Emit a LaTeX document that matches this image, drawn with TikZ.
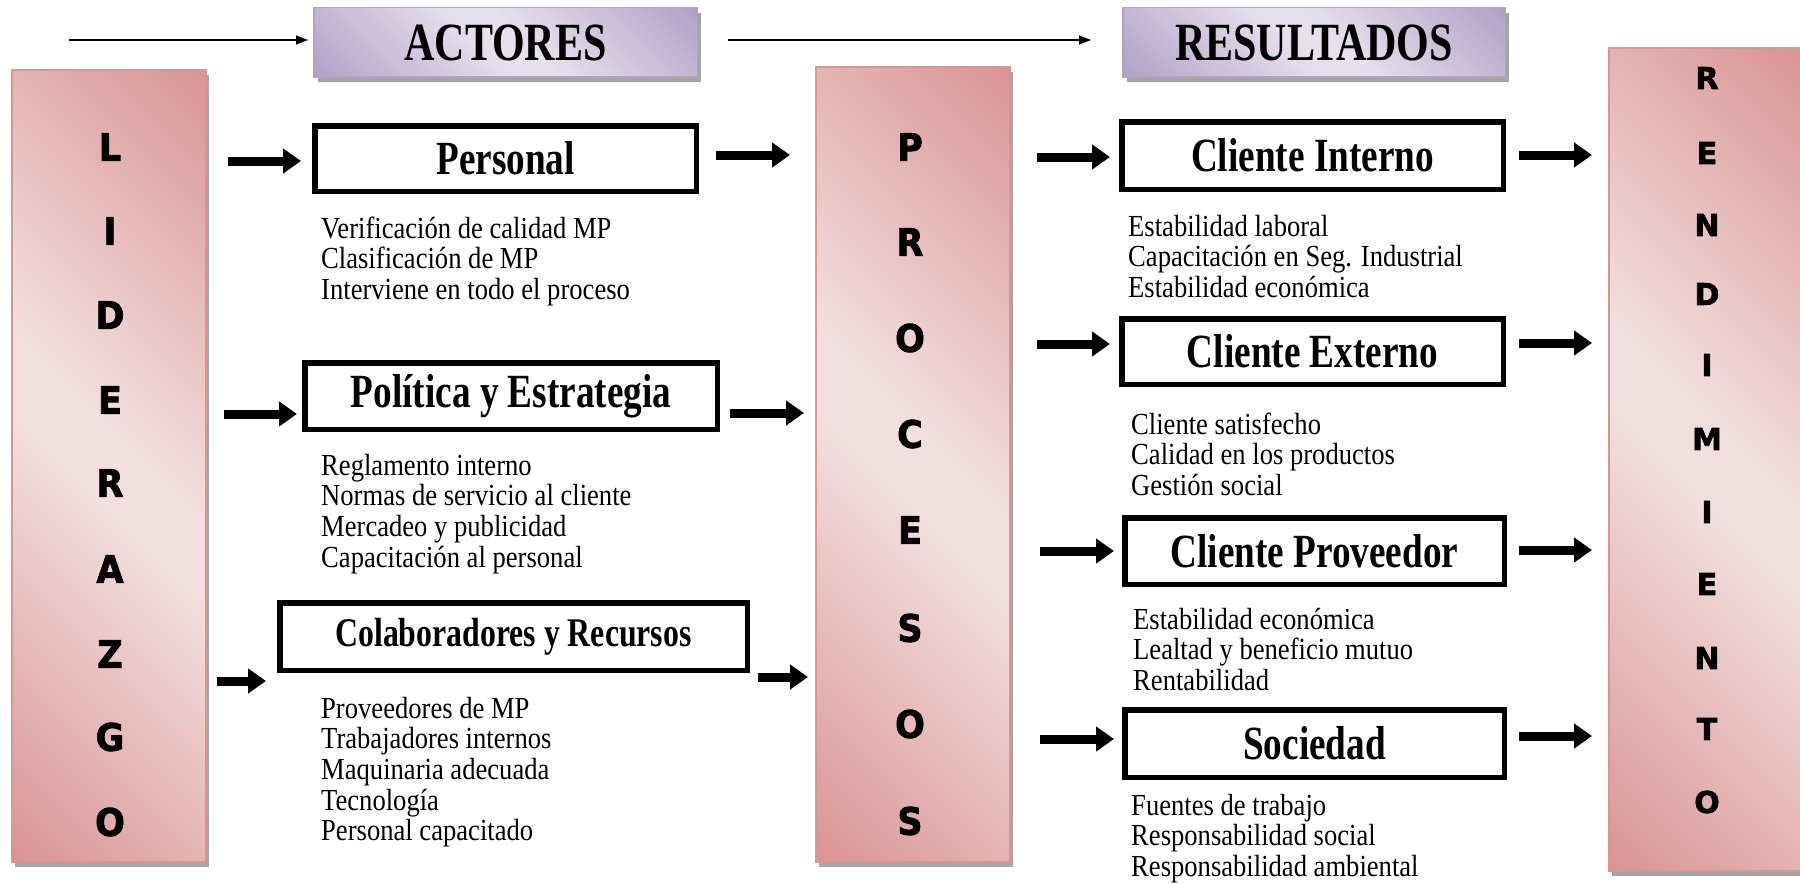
\documentclass[tikz,border=0pt]{standalone}
\usepackage{fontspec}
\usepackage{graphicx}
\setmainfont{Liberation Serif}
\newfontfamily\decofont{DejaVu Sans}[BoldFont={DejaVu Sans Bold}, BoldFeatures={FakeBold=2.2}]
\usetikzlibrary{arrows.meta,shadows}

\definecolor{pinkdark}{RGB}{217,149,148}
\definecolor{pinklight}{RGB}{243,223,223}
\definecolor{lavdark}{RGB}{178,161,199}
\definecolor{lavlight}{RGB}{231,225,238}
\definecolor{shadowgray}{RGB}{165,165,165}

% diagonal fills: dark corners, light band along the long diagonal
\pgfdeclareverticalshading{pinkdiag}{100bp}{color(0bp)=(pinkdark); color(15bp)=(pinkdark);
  color(47bp)=(pinklight); color(53bp)=(pinklight); color(85bp)=(pinkdark); color(100bp)=(pinkdark)}
\pgfdeclareverticalshading{lavdiag}{100bp}{color(0bp)=(lavdark); color(15bp)=(lavdark);
  color(47bp)=(lavlight); color(53bp)=(lavlight); color(85bp)=(lavdark); color(100bp)=(lavdark)}

% vertically stretched text
\newcommand{\vstretch}[2][1.28]{\scalebox{1}[#1]{#2}}
% stacked lines with a fixed baseline distance (rows separated by \cr)
\newcommand{\itemlines}[1]{\vstretch[1.15]{\vtop{\baselineskip=26.7pt\lineskiplimit=-100pt\lineskip=0pt
  \halign{##\hfil\cr#1\crcr}}}}

\begin{document}
\begin{tikzpicture}[x=1pt,y=-1pt,
  panel/.style={draw=pinkdark, line width=2pt, inner sep=0pt,
    shading=pinkdiag, shading angle=-45, minimum width=194pt,
    drop shadow={shadow xshift=3pt, shadow yshift=-5pt, fill=shadowgray, opacity=1}},
  header/.style={draw=lavdark, line width=1.5pt, inner sep=0pt,
    shading=lavdiag, shading angle=-45, minimum height=69.5pt,
    drop shadow={shadow xshift=4pt, shadow yshift=-5pt, fill=shadowgray, opacity=1},
    font=\bfseries\fontsize{42}{42}\selectfont},
  tbox/.style={draw=black, line width=5.5pt, fill=white, inner sep=0pt,
    font=\bfseries\fontsize{37.2}{37.2}\selectfont},
  items/.style={anchor=base west, inner sep=0pt, font=\fontsize{26.6}{26.7}\selectfont},
  lett/.style={inner sep=0pt, font=\decofont\bfseries\fontsize{35}{35}\selectfont},
  lettsmall/.style={inner sep=0pt, font=\decofont\bfseries\fontsize{30}{30}\selectfont},
  blk/.style={line width=9pt, -{Triangle[length=18pt,width=24pt]}},
  thinarrow/.style={line width=1.4pt, -{Triangle[length=12pt,width=9pt]}}
]
\useasboundingbox (0,0) rectangle (1800,883);
\fill[white] (0,0) rectangle (1800,883);

% side panels
\node[panel, minimum height=792pt] (lid) at (109,466) {};
\node[panel, minimum height=795pt] (pro) at (913,464.5) {};
\node[panel, minimum height=823pt] (ren) at (1706,459.5) {};

\foreach \ch/\yy [count=\k] in {L/147,I/231,D/315,E/400,R/483,A/569,Z/654,G/737,O/822}
  \node[lett] (lid\k) at (110,\yy) {\vstretch[1.08]{\ch}};
\foreach \ch/\yy [count=\k] in {P/147,R/242,O/338,C/434,E/530,S/628,O/724,S/821}
  \node[lett] (pro\k) at (910,\yy) {\vstretch[1.08]{\ch}};
\foreach \ch/\yy [count=\k] in {R/78,E/153,N/225,D/294,I/365,M/439,I/512,E/584,N/658,T/729,O/802}
  \node[lettsmall] (ren\k) at (1707,\yy) {\ch};

% headers
\node[header, minimum width=383.5pt] (h1) at (505.5,42.5) {\vstretch{ACTORES}};
\node[header, minimum width=382.5pt] (h2) at (1314,42.5) {\vstretch{RESULTADOS}};
\coordinate (t1) at (69,40);
\coordinate (t2) at (728,40);
\draw[thinarrow, shorten >=5pt] (t1) -- (t1 -| h1.west);
\draw[thinarrow, shorten >=31pt] (t2) -- (t2 -| h2.west);

% actor boxes
\node[tbox, minimum width=381.5pt, minimum height=65.5pt] (p1) at (505.5,158.5) {\vstretch{Personal}};
\node[tbox, minimum width=412.5pt, minimum height=66.5pt] (p2) at (511,396) {\vstretch{Política y Estrategia}};
\node[tbox, minimum width=467.5pt, minimum height=67.5pt,
      font=\bfseries\fontsize{31.8}{31.8}\selectfont] (p3) at (513.5,636.5) {\vstretch{Colaboradores y Recursos}};

% result boxes
\node[tbox, minimum width=381.5pt, minimum height=67.5pt] (r1) at (1312.5,155.5) {\vstretch{Cliente Interno}};
\node[tbox, minimum width=381.5pt, minimum height=65.5pt] (r2) at (1312.5,351.5) {\vstretch{Cliente Externo}};
\node[tbox, minimum width=379.5pt, minimum height=66.5pt] (r3) at (1314.5,551) {\vstretch{Cliente Proveedor}};
\node[tbox, minimum width=379.5pt, minimum height=67.5pt] (r4) at (1314.5,743.5) {\vstretch{Sociedad}};

% item lists
\node[items] (l1) at (321,238) {\itemlines{Verificación de calidad MP\cr Clasificación de MP\cr Interviene en todo el proceso}};
\node[items] (l2) at (321,475) {\itemlines{Reglamento interno\cr Normas de servicio al cliente\cr Mercadeo y publicidad\cr Capacitación al personal}};
\node[items] (l3) at (321,718) {\itemlines{Proveedores de MP\cr Trabajadores internos\cr Maquinaria adecuada\cr Tecnología\cr Personal capacitado}};
\node[items] (l4) at (1128,236) {\itemlines{Estabilidad laboral\cr Capacitación en Seg. Industrial\cr Estabilidad económica}};
\node[items] (l5) at (1131,434) {\itemlines{Cliente satisfecho\cr Calidad en los productos\cr Gestión social}};
\node[items] (l6) at (1133,629) {\itemlines{Estabilidad económica\cr Lealtad y beneficio mutuo\cr Rentabilidad}};
\node[items] (l7) at (1131,815) {\itemlines{Fuentes de trabajo\cr Responsabilidad social\cr Responsabilidad ambiental}};

% arrow heights
\coordinate (a1) at (0,161);  \coordinate (a2) at (0,155);
\coordinate (a3) at (0,414);  \coordinate (a4) at (0,413);
\coordinate (a5) at (0,681);  \coordinate (a6) at (0,677);
\coordinate (b1) at (0,157);  \coordinate (b2) at (0,155);
\coordinate (b3) at (0,344);  \coordinate (b4) at (0,343);
\coordinate (b5) at (0,551);  \coordinate (b6) at (0,550);
\coordinate (b7) at (0,739);  \coordinate (b8) at (0,736);

% block arrows
\draw[blk, shorten <=21pt, shorten >=11pt] (lid.east |- a1) -- (p1.west |- a1);
\draw[blk, shorten <=17pt, shorten >=25pt] (p1.east |- a2) -- (pro.west |- a2);
\draw[blk, shorten <=17pt, shorten >=5pt] (lid.east |- a3) -- (p2.west |- a3);
\draw[blk, shorten <=10pt, shorten >=11pt] (p2.east |- a4) -- (pro.west |- a4);
\draw[blk, shorten <=10pt, shorten >=11pt] (lid.east |- a5) -- (p3.west |- a5);
\draw[blk, shorten <=8pt, shorten >=7pt] (p3.east |- a6) -- (pro.west |- a6);

\draw[blk, shorten <=26pt, shorten >=9pt] (pro.east |- b1) -- (r1.west |- b1);
\draw[blk, shorten <=13pt, shorten >=16pt] (r1.east |- b2) -- (ren.west |- b2);
\draw[blk, shorten <=26pt, shorten >=9pt] (pro.east |- b3) -- (r2.west |- b3);
\draw[blk, shorten <=13pt, shorten >=16pt] (r2.east |- b4) -- (ren.west |- b4);
\draw[blk, shorten <=29pt, shorten >=8pt] (pro.east |- b5) -- (r3.west |- b5);
\draw[blk, shorten <=12pt, shorten >=16pt] (r3.east |- b6) -- (ren.west |- b6);
\draw[blk, shorten <=29pt, shorten >=8pt] (pro.east |- b7) -- (r4.west |- b7);
\draw[blk, shorten <=12pt, shorten >=16pt] (r4.east |- b8) -- (ren.west |- b8);
\end{tikzpicture}
\end{document}
